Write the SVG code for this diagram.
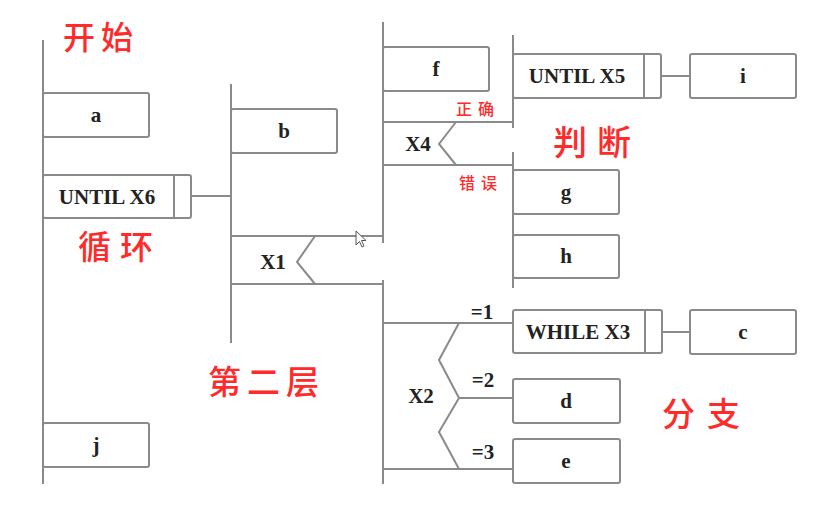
<svg xmlns="http://www.w3.org/2000/svg" width="822" height="521" viewBox="0 0 822 521">
<style>
.ln{stroke:#8a8a8a;stroke-width:2;fill:none}
.bx{stroke:#8a8a8a;stroke-width:2;fill:#fff}
.t{font-family:"Liberation Serif","Times New Roman",serif;font-weight:bold;font-size:21px;fill:#222;text-anchor:middle;dominant-baseline:central}
.r{font-family:"Noto Sans CJK SC","Noto Sans CJK JP",sans-serif;fill:#ff2a2a;dominant-baseline:central;font-weight:500}
</style>
<rect width="822" height="521" fill="#fff"/>
<g id="connectors">
<path class="ln" d="M43,40V484"/>
<path class="ln" d="M191,196H231"/>
<path class="ln" d="M231,84V343"/>
<path class="ln" d="M231,236H383M231,284H383"/>
<path class="ln" d="M315,236L297,262L315,284"/>
<path class="ln" d="M383,22V243"/>
<path class="ln" d="M383,280V484"/>
<path class="ln" d="M383,122H513M383,165H513"/>
<path class="ln" d="M456,122L439,144L456,165"/>
<path class="ln" d="M513,35V128"/>
<path class="ln" d="M513,152V288"/>
<path class="ln" d="M661,76H690"/>
<path class="ln" d="M383,323H513M459,398H513M383,469H513"/>
<path class="ln" d="M459,323L439,360L459,398L439,432L459,469"/>
<path class="ln" d="M662,332H690"/>
</g>
<g id="node-a"><rect class="bx" x="43" y="93" width="106" height="44" rx="2"/><text class="t" x="96" y="115">a</text></g>
<g id="node-until-x6"><rect class="bx" x="43" y="175" width="148" height="43" rx="2"/><path class="ln" d="M174,175V218"/><text class="t" x="107" y="197">UNTIL X6</text></g>
<g id="node-j"><rect class="bx" x="43" y="423" width="106" height="44" rx="2"/><text class="t" x="96" y="445">j</text></g>
<g id="node-b"><rect class="bx" x="231" y="109" width="106" height="44" rx="2"/><text class="t" x="284" y="131">b</text></g>
<g id="node-x1"><text class="t" x="273" y="262">X1</text></g>
<g id="node-f"><rect class="bx" x="383" y="47" width="106" height="44" rx="2"/><text class="t" x="436" y="69">f</text></g>
<g id="node-x4"><text class="t" x="418" y="144">X4</text></g>
<g id="node-until-x5"><rect class="bx" x="513" y="54" width="148" height="44" rx="2"/><path class="ln" d="M644,54V98"/><text class="t" x="577" y="76">UNTIL X5</text></g>
<g id="node-i"><rect class="bx" x="690" y="54" width="106" height="44" rx="2"/><text class="t" x="743" y="76">i</text></g>
<g id="node-g"><rect class="bx" x="513" y="170" width="106" height="44" rx="2"/><text class="t" x="566" y="192">g</text></g>
<g id="node-h"><rect class="bx" x="513" y="235" width="106" height="43" rx="2"/><text class="t" x="566" y="256">h</text></g>
<g id="node-x2"><text class="t" x="421" y="396">X2</text></g>
<g id="node-while-x3"><rect class="bx" x="513" y="310" width="149" height="43" rx="2"/><path class="ln" d="M645,310V353"/><text class="t" x="578" y="332">WHILE X3</text></g>
<g id="node-c"><rect class="bx" x="690" y="310" width="106" height="44" rx="2"/><text class="t" x="743" y="332">c</text></g>
<g id="node-d"><rect class="bx" x="513" y="379" width="107" height="44" rx="2"/><text class="t" x="566" y="401">d</text></g>
<g id="node-e"><rect class="bx" x="513" y="439" width="107" height="44" rx="2"/><text class="t" x="566" y="461">e</text></g>
<g id="labels">
<text class="t" x="482" y="312" font-size="19">=1</text>
<text class="t" x="483" y="380" font-size="19">=2</text>
<text class="t" x="483" y="452" font-size="19">=3</text>
<text class="r" x="63" y="35" font-size="32" letter-spacing="6">开始</text>
<text class="r" x="78" y="245" font-size="33" letter-spacing="9">循环</text>
<text class="r" x="208" y="380" font-size="33" letter-spacing="6">第二层</text>
<text class="r" x="553" y="140" font-size="34" letter-spacing="10">判断</text>
<text class="r" x="662" y="412" font-size="33" letter-spacing="12">分支</text>
<text class="r" x="456" y="108" font-size="16" letter-spacing="6">正确</text>
<text class="r" x="459" y="182" font-size="16" letter-spacing="6">错误</text>
</g>
<path d="M356,231V245L359.5,241.5L362,247L364,246L361.5,240.5H366Z" fill="#fff" stroke="#555" stroke-width="1"/>
</svg>
